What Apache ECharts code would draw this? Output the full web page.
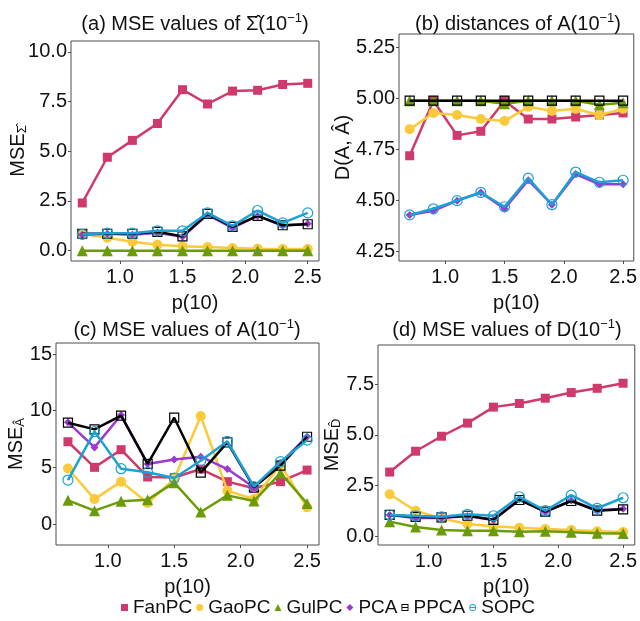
<!DOCTYPE html>
<html>
<head>
<meta charset="utf-8">
<script src="https://cdn.jsdelivr.net/npm/echarts@6/dist/echarts.min.js"></script>
<style>
  html, body { margin: 0; padding: 0; background: #fff; }
  #chartmain { width: 640px; height: 621px; }
</style>
</head>
<body>
<div id="chartmain"></div>
<script>
  // p(10) values on the x axis
  var pVals = [0.7, 0.9, 1.1, 1.3, 1.5, 1.7, 1.9, 2.1, 2.3, 2.5];
  var methods = ['FanPC', 'GaoPC', 'GulPC', 'PCA', 'PPCA', 'SOPC'];
  var xTicks = [1.0, 1.5, 2.0, 2.5];

  // (a) MSE values of Sigma-hat
  var aFanPC = [2.4, 4.7, 5.55, 6.4, 8.1, 7.38, 8.03, 8.07, 8.36, 8.42];
  var aGaoPC = [0.85, 0.65, 0.45, 0.3, 0.22, 0.18, 0.13, 0.1, 0.08, 0.08];
  var aGulPC = [0.0, 0.0, 0.0, 0.0, 0.0, 0.0, 0.0, 0.0, 0.0, 0.0];
  var aPCA = [0.8, 0.85, 0.8, 0.9, 0.7, 1.8, 1.15, 1.75, 1.25, 1.35];
  var aPPCA = [0.85, 0.85, 0.85, 0.95, 0.72, 1.85, 1.2, 1.75, 1.28, 1.33];
  var aSOPC = [0.82, 0.88, 0.88, 1.0, 1.0, 1.9, 1.25, 2.02, 1.4, 1.9];
  var aTicks = [0, 2.5, 5, 7.5, 10];

  // (b) distances of A
  var bFanPC = [4.72, 4.99, 4.82, 4.84, 4.99, 4.90, 4.90, 4.91, 4.92, 4.93];
  var bGaoPC = [4.85, 4.93, 4.92, 4.90, 4.89, 4.96, 4.94, 4.95, 4.92, 4.95];
  var bGulPC = [4.99, 4.99, 4.99, 4.99, 4.975, 4.99, 4.99, 4.99, 4.97, 4.98];
  var bPCA = [4.43, 4.45, 4.50, 4.54, 4.46, 4.60, 4.48, 4.63, 4.58, 4.58];
  var bPPCA = [4.99, 4.99, 4.99, 4.99, 4.99, 4.99, 4.99, 4.99, 4.99, 4.99];
  var bSOPC = [4.43, 4.46, 4.50, 4.54, 4.47, 4.61, 4.48, 4.64, 4.59, 4.60];
  var bTicks = [4.25, 4.5, 4.75, 5.0, 5.25];

  // (c) MSE values of A
  var cFanPC = [7.26, 5.0, 6.56, 4.15, 4.1, 4.85, 3.74, 3.15, 3.74, 4.76];
  var cGaoPC = [4.9, 2.2, 3.74, 1.85, 3.97, 9.53, 2.94, 2.2, 5.24, 1.47];
  var cGulPC = [2.09, 1.18, 2.0, 2.15, 3.65, 1.06, 2.53, 2.03, 4.5, 1.82];
  var cPCA = [8.97, 6.76, 9.62, 5.3, 5.7, 5.94, 4.85, 3.24, 5.38, 7.7];
  var cPPCA = [8.94, 8.35, 9.56, 5.3, 9.38, 4.53, 7.2, 3.24, 5.15, 7.7];
  var cSOPC = [3.88, 8.15, 4.88, 4.56, 4.06, 5.58, 7.3, 3.3, 5.5, 7.4];
  var cTicks = [0, 5, 10, 15];

  // (d) MSE values of D
  var dFanPC = [3.16, 4.19, 4.93, 5.58, 6.37, 6.55, 6.81, 7.09, 7.30, 7.55];
  var dGaoPC = [2.06, 1.25, 0.86, 0.59, 0.48, 0.41, 0.35, 0.30, 0.23, 0.2];
  var dGulPC = [0.71, 0.44, 0.3, 0.26, 0.26, 0.21, 0.23, 0.18, 0.13, 0.12];
  var dPCA = [1.04, 0.89, 0.89, 0.99, 0.79, 1.83, 1.18, 1.76, 1.27, 1.35];
  var dPPCA = [1.04, 0.95, 0.92, 1.0, 0.8, 1.78, 1.2, 1.73, 1.25, 1.32];
  var dSOPC = [1.04, 0.99, 0.95, 1.07, 1.0, 1.94, 1.25, 2.02, 1.37, 1.89];
  var dTicks = [0, 2.5, 5, 7.5];

  var colors = ['#CF3A6A', '#FBC93A', '#6A9C0A', '#9A3AD0', '#000000', '#1AA2D4'];
  var symbols = ['rect', 'circle', 'triangle', 'diamond', 'rect', 'circle'];
  var sizes = [9, 10, 11, 8, 9, 10];
  var FONT = 'Liberation Sans, Arial, sans-serif';

  var panels = [
    { data: [aFanPC, aGaoPC, aGulPC, aPCA, aPPCA, aSOPC], ticks: aTicks, dec: 1,
      grid: { left: 71, top: 41, width: 248, height: 220 }, ymin: -0.52, ymax: 10.55,
      yname: '{m|MSE}{s|Σ̂}', nameGap: 42 },
    { data: [bFanPC, bGaoPC, bGulPC, bPCA, bPPCA, bSOPC], ticks: bTicks, dec: 2,
      grid: { left: 399, top: 34, width: 238, height: 227 }, ymin: 4.204, ymax: 5.317,
      yname: '{m|D(A, Â)}', nameGap: 46 },
    { data: [cFanPC, cGaoPC, cGulPC, cPCA, cPPCA, cSOPC], ticks: cTicks, dec: 0,
      grid: { left: 56, top: 343, width: 263, height: 202 }, ymin: -1.85, ymax: 15.97,
      yname: '{m|MSE}{s|Â}', nameGap: 29 },
    { data: [dFanPC, dGaoPC, dGulPC, dPCA, dPPCA, dSOPC], ticks: dTicks, dec: 1,
      grid: { left: 378, top: 345, width: 259, height: 200 }, ymin: -0.445, ymax: 9.44,
      yname: '{m|MSE}{s|D̂}', nameGap: 35 }
  ];

  var titles = [
    { t: '(a) MSE values of Σ̂(10', x: 195, y: 8 },
    { t: '(b) distances of A(10', x: 518, y: 8 },
    { t: '(c) MSE values of A(10', x: 187, y: 314 },
    { t: '(d) MSE values of D(10', x: 507, y: 314 }
  ];

  var grids = [], xAxes = [], yAxes = [], series = [], graphics = [];

  for (var k = 0; k < panels.length; k++) {
    var pn = panels[k];
    grids.push({ left: pn.grid.left, top: pn.grid.top, width: pn.grid.width, height: pn.grid.height,
      show: true, borderColor: '#4d4d4d', borderWidth: 1, backgroundColor: '#fff' });
    xAxes.push({
      type: 'value', gridIndex: k, min: 0.61, max: 2.59,
      name: 'p(10)', nameLocation: 'middle', nameGap: 32, nameMoveOverlap: false,
      nameTextStyle: { fontSize: 20, color: '#111', fontFamily: FONT },
      axisLine: { show: false, onZero: false }, splitLine: { show: false },
      axisTick: { show: true, length: 3, customValues: xTicks, lineStyle: { color: '#4d4d4d' } },
      axisLabel: { customValues: xTicks, margin: 6, fontSize: 20, color: '#111', fontFamily: FONT,
        formatter: function (v) { return v.toFixed(1); } }
    });
    (function (dec) {
      yAxes.push({
        type: 'value', gridIndex: k, min: pn.ymin, max: pn.ymax,
        name: pn.yname, nameLocation: 'middle', nameGap: pn.nameGap, nameRotate: 90,
        nameMoveOverlap: false,
        nameTextStyle: { color: '#111', fontFamily: FONT,
          rich: { m: { fontSize: 20, fontFamily: FONT, color: '#111' },
                  s: { fontSize: 13, fontFamily: FONT, color: '#111', padding: [8, 0, 0, 0] } } },
        axisLine: { show: false, onZero: false }, splitLine: { show: false },
        axisTick: { show: true, length: 3, customValues: pn.ticks, lineStyle: { color: '#4d4d4d' } },
        axisLabel: { customValues: pn.ticks, margin: 4, fontSize: 20, color: '#111', fontFamily: FONT,
          formatter: function (v) { return v.toFixed(dec); } }
      });
    })(pn.dec);

    for (var m = 0; m < methods.length; m++) {
      var pts = [];
      for (var i = 0; i < pVals.length; i++) pts.push([pVals[i], pn.data[m][i]]);
      var hollow = (m === 4 || m === 5);
      series.push({
        name: methods[m], type: 'line', xAxisIndex: k, yAxisIndex: k,
        data: pts, symbol: symbols[m], symbolSize: sizes[m], showSymbol: true,
        z: 2 + m, animation: false,
        lineStyle: { color: colors[m], width: 2.5 },
        itemStyle: hollow ? { color: 'rgba(255,255,255,0)', borderColor: colors[m], borderWidth: 1.2 }
                          : { color: colors[m], borderWidth: 0 }
      });
    }

    graphics.push({
      type: 'text', x: titles[k].x, y: titles[k].y,
      style: {
        text: '{t|' + titles[k].t + '}{s|−1}{t|)}',
        textAlign: 'center',
        rich: {
          t: { fontSize: 20, fontFamily: FONT, fill: '#111', lineHeight: 26, verticalAlign: 'bottom' },
          s: { fontSize: 13, fontFamily: FONT, fill: '#111', padding: [0, 0, 9, 0], verticalAlign: 'bottom' }
        }
      }
    });
  }

  var option = {
    animation: false,
    textStyle: { fontFamily: FONT },
    grid: grids,
    xAxis: xAxes,
    yAxis: yAxes,
    series: series,
    graphic: graphics,
    legend: {
      left: 116, top: 593, itemWidth: 7, itemHeight: 7, itemGap: 4,
      textStyle: { fontSize: 19, color: '#111', fontFamily: FONT },
      data: [
        { name: 'FanPC', icon: 'rect', itemStyle: { color: colors[0] } },
        { name: 'GaoPC', icon: 'circle', itemStyle: { color: colors[1] } },
        { name: 'GulPC', icon: 'triangle', itemStyle: { color: colors[2] } },
        { name: 'PCA', icon: 'diamond', itemStyle: { color: colors[3] } },
        { name: 'PPCA', icon: 'path://M0,0H10V10H0Z M1.3,1.3V8.7H8.7V1.3Z M0,4.4H10V5.6H0Z',
          itemStyle: { color: colors[4], borderWidth: 0 } },
        { name: 'SOPC', icon: 'path://M0,5A5,5 0 1,1 10,5A5,5 0 1,1 0,5Z M1.3,5A3.7,3.7 0 1,0 8.7,5A3.7,3.7 0 1,0 1.3,5Z M0,4.4H10V5.6H0Z',
          itemStyle: { color: colors[5], borderWidth: 0 } }
      ]
    }
  };

  var myChart = echarts.init(document.getElementById('chartmain'));
  myChart.setOption(option);
</script>
</body>
</html>
